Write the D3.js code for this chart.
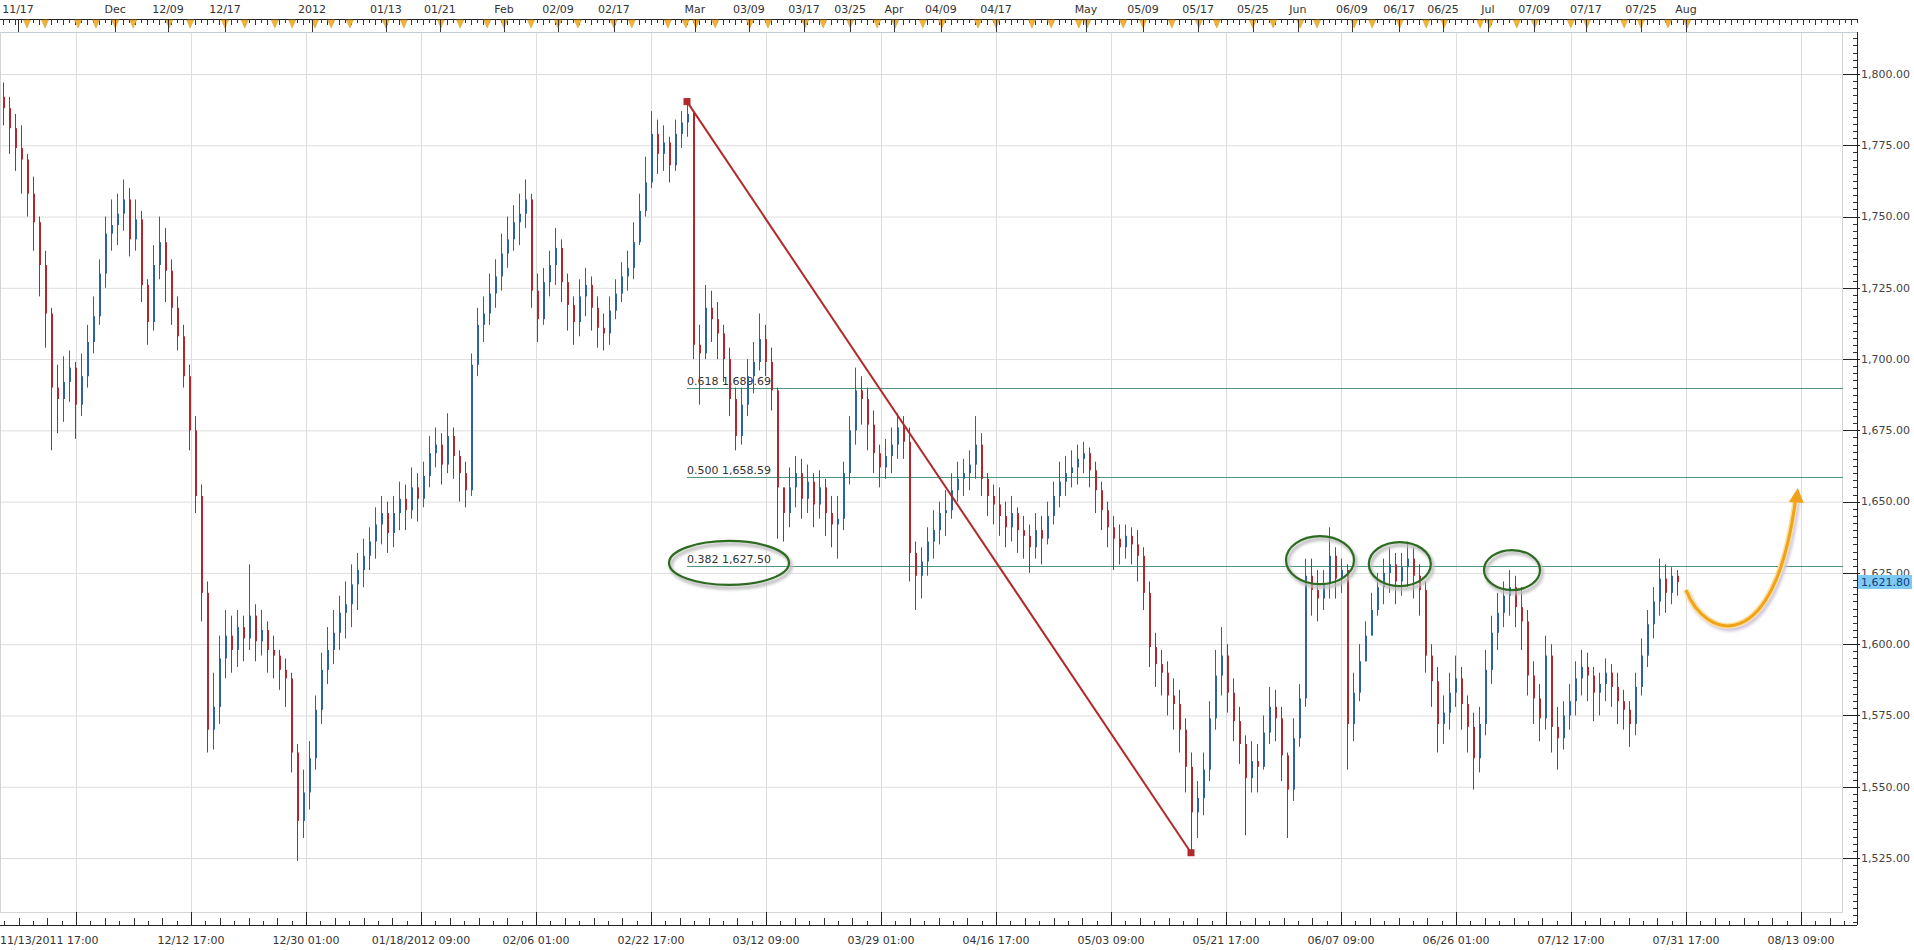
<!DOCTYPE html>
<html>
<head>
<meta charset="utf-8">
<script src="https://cdn.jsdelivr.net/npm/d3@7"></script>
<style>
  body { margin: 0; background: #fff; }
  svg { display: block; }
  text { font-family: "DejaVu Sans", Verdana, sans-serif; }
</style>
</head>
<body>
<svg id="chart" width="1914" height="950"></svg>
<script>
// gold, 4H-ish bars (thinned), open = previous close
const firstOpen = 1792;
const closes = [
  1788,1781,1774,1770,1758,1748,1733,1716,1690,1686,
  1692,1697,1684,1694,1706,1715,1730,1744,1747,1751,
  1756,1742,1749,1726,1713,1733,1741,1731,1718,1708,
  1694,1675,1652,1618,1570,1578,1595,1603,1598,1606,
  1602,1610,1601,1605,1598,1596,1591,1588,1562,1538,
  1548,1560,1577,1591,1598,1604,1611,1614,1621,1626,
  1631,1636,1642,1646,1639,1646,1651,1647,1655,1651,
  1659,1667,1670,1663,1673,1666,1660,1654,1698,1712,
  1716,1723,1729,1737,1742,1748,1751,1756,1724,1714,
  1727,1733,1739,1727,1719,1713,1722,1726,1718,1711,
  1709,1717,1723,1729,1732,1741,1752,1762,1779,1772,
  1776,1768,1779,1783,1786,1705,1702,1718,1714,1709,
  1700,1686,1673,1684,1694,1699,1707,1699,1689,1655,
  1646,1655,1660,1651,1657,1649,1655,1646,1642,1644,
  1660,1675,1689,1686,1677,1667,1662,1666,1670,1676,
  1671,1632,1624,1629,1636,1640,1646,1647,1654,1658,
  1660,1663,1670,1658,1652,1649,1645,1641,1646,1640,
  1638,1634,1640,1637,1645,1652,1657,1660,1662,1665,
  1667,1661,1654,1647,1641,1637,1634,1638,1635,1631,
  1618,1599,1593,1590,1582,1579,1570,1557,1541,1546,
  1556,1574,1589,1596,1583,1573,1565,1553,1559,1557,
  1569,1578,1574,1561,1549,1567,1581,1624,1619,1616,
  1621,1631,1623,1626,1572,1583,1594,1603,1612,1620,
  1625,1628,1622,1627,1630,1624,1619,1596,1587,1572,
  1576,1583,1588,1579,1571,1560,1572,1591,1604,1611,
  1617,1620,1613,1608,1589,1581,1574,1596,1571,1567,
  1575,1580,1588,1592,1589,1583,1586,1590,1585,1580,
  1577,1572,1585,1596,1607,1615,1623,1618,1624,1621.8
];
const highs = [
  1797,1792,1786,1782,1772,1764,1750,1738,1718,1698,
  1701,1703,1699,1702,1712,1722,1735,1750,1756,1758,
  1763,1760,1756,1752,1728,1740,1750,1746,1735,1722,
  1712,1698,1680,1656,1622,1590,1603,1612,1610,1612,
  1610,1628,1614,1612,1608,1603,1598,1595,1590,1565,
  1556,1566,1582,1597,1606,1612,1617,1622,1628,1632,
  1637,1641,1648,1652,1650,1652,1657,1656,1662,1660,
  1664,1673,1676,1674,1681,1676,1668,1664,1702,1718,
  1722,1730,1735,1744,1750,1754,1758,1763,1758,1730,
  1732,1738,1746,1742,1730,1722,1728,1732,1729,1722,
  1716,1722,1728,1734,1738,1748,1758,1771,1787,1784,
  1782,1778,1784,1787,1790.33,1787,1712,1726,1724,1720,
  1712,1704,1690,1690,1700,1706,1716,1712,1704,1690,
  1654,1662,1666,1665,1663,1660,1661,1658,1652,1652,
  1664,1680,1697,1694,1690,1682,1670,1672,1676,1681,
  1680,1676,1636,1634,1641,1647,1650,1654,1660,1664,
  1665,1668,1680,1674,1660,1656,1655,1650,1652,1648,
  1645,1642,1646,1645,1650,1657,1664,1666,1668,1670,
  1671,1669,1664,1657,1650,1645,1642,1642,1641,1640,
  1634,1622,1604,1598,1594,1588,1584,1574,1562,1552,
  1562,1580,1598,1606,1600,1588,1578,1568,1566,1565,
  1575,1585,1584,1578,1562,1574,1586,1630,1630,1626,
  1626,1641,1634,1630,1628,1590,1600,1608,1618,1625,
  1630,1634,1632,1632,1636,1634,1628,1622,1600,1592,
  1582,1590,1596,1592,1582,1576,1578,1598,1610,1618,
  1622,1626,1624,1620,1612,1594,1586,1603,1600,1578,
  1580,1586,1594,1598,1597,1592,1590,1595,1593,1590,
  1584,1580,1590,1602,1612,1620,1630,1628,1627,1626
];
const lows = [
  1782,1772,1766,1758,1750,1738,1722,1704,1668,1674,
  1678,1685,1672,1680,1690,1702,1712,1725,1738,1740,
  1745,1736,1738,1720,1705,1710,1728,1720,1712,1703,
  1690,1668,1646,1608,1562,1563,1572,1588,1590,1592,
  1594,1598,1594,1596,1590,1588,1584,1578,1555,1524,
  1532,1542,1556,1572,1586,1593,1598,1602,1606,1612,
  1620,1626,1630,1635,1632,1634,1640,1640,1644,1643,
  1648,1655,1662,1656,1660,1658,1650,1648,1652,1694,
  1706,1712,1718,1724,1732,1738,1740,1746,1718,1706,
  1712,1722,1726,1720,1710,1705,1708,1715,1710,1704,
  1703,1705,1714,1720,1724,1728,1740,1750,1760,1765,
  1766,1762,1766,1774,1778,1700,1684,1700,1706,1700,
  1692,1680,1668,1670,1680,1688,1696,1694,1682,1637,
  1636,1641,1648,1644,1646,1641,1644,1638,1634,1630,
  1640,1656,1670,1677,1668,1660,1655,1658,1660,1665,
  1665,1622,1612,1616,1624,1630,1635,1638,1644,1650,
  1652,1654,1658,1652,1645,1642,1638,1634,1636,1632,
  1630,1625,1630,1628,1635,1642,1648,1652,1655,1656,
  1660,1655,1646,1640,1634,1626,1628,1630,1628,1622,
  1612,1592,1585,1582,1575,1570,1562,1548,1526.85,1532,
  1540,1552,1570,1582,1576,1566,1558,1533,1548,1548,
  1556,1565,1566,1552,1532,1545,1564,1578,1610,1608,
  1612,1616,1616,1618,1556,1566,1580,1594,1604,1610,
  1614,1618,1614,1617,1620,1616,1610,1590,1578,1562,
  1565,1570,1578,1570,1562,1549,1555,1568,1586,1598,
  1606,1610,1606,1598,1582,1572,1566,1570,1562,1556,
  1563,1570,1575,1582,1580,1573,1575,1580,1578,1572,
  1570,1564,1568,1582,1592,1602,1610,1611,1614,1617
];

// axis labels (positions in bar slots)
const topLabels = ['11/17','Dec','12/09','12/17','2012','01/13','01/21','Feb','02/09','02/17',
  'Mar','03/09','03/17','03/25','Apr','04/09','04/17','May','05/09','05/17','05/25',
  'Jun','06/09','06/17','06/25','Jul','07/09','07/17','07/25','Aug'];
const topSlots = [2.5,18.7,27.5,37,51.5,63.8,72.8,83.5,92.5,101.8,
  115.3,124.3,133.5,141.2,148.5,156.3,165.5,180.5,190,199.2,208.3,
  215.8,224.8,232.7,240,247.5,255.2,263.8,273,280.5];
const markerSlots = [4,7,12.5,15.5,18.7,21.7,27.7,31.2,37,40.3,45.3,48.2,52,54.7,57.8,63.8,66.8,
  73,76.2,80.7,83.5,88,92.5,95.8,101.8,104.8,110.8,113.8,115.5,118.7,124.5,127.5,133.7,136.7,
  141.2,145.7,148.7,153.3,156.5,162.5,165.5,171.5,174.7,179.3,180.7,186.7,190,194.8,199.3,
  202.3,208.3,211.7,216.2,219,225.2,228.2,232.8,237.2,240.2,246.2,247.8,252.3,255.3,261.3,
  264,270.2,273,277.5,280.7];
const bottomLabels = ['','12/12 17:00','12/30 01:00','01/18/2012 09:00','02/06 01:00','02/22 17:00',
  '03/12 09:00','03/29 01:00','04/16 17:00','05/03 09:00','05/21 17:00','06/07 09:00',
  '06/26 01:00','07/12 17:00','07/31 17:00','08/13 09:00'];
const bottomSlots = [12.17,31.33,50.5,69.67,88.83,108,127.17,146.33,165.5,184.67,203.83,
  223,242.17,261.33,280.5,299.67];
const firstBarLabel = '11/13/2011 17:00';
const priceTicks = [1525,1550,1575,1600,1625,1650,1675,1700,1725,1750,1775,1800];
const lastPrice = 1621.80;

// drawing tools
const fibRatios = ['0.618','0.500','0.382'];
const fibPrices = [1689.69, 1658.59, 1627.50];
const trendSlots = [114, 198];
const trendPrices = [1790.33, 1526.85];
const circleSlots = [121, 219.5, 232.8, 251.5];
const circlePrices = [1628.5, 1629.5, 1628.1, 1626];
const arrowSlots = [280.5, 283.7, 295.3, 298.8];
const arrowPrices = [1619, 1601.5, 1594.5, 1651.3];

const W = 1914, H = 950;
const plot = {left: 0, right: 1843, top: 32, bottom: 912};
const axisX = 1857, axisY = 925, rulerY = 19;

const svg = d3.select('#chart');
const x = d3.scaleLinear().domain([0, 280]).range([3, 1683]);
const y = d3.scaleLinear().domain([1525, 1800]).range([858, 74]);

const defs = svg.append('defs');
defs.append('clipPath').attr('id', 'plotclip')
  .append('rect')
  .attr('x', plot.left).attr('y', plot.top)
  .attr('width', plot.right - plot.left).attr('height', plot.bottom - plot.top);
defs.append('filter').attr('id', 'soft')
  .append('feGaussianBlur').attr('stdDeviation', 1.6);

// grid
const grid = svg.append('g').attr('clip-path', 'url(#plotclip)');
grid.selectAll('.hg').data(priceTicks).join('line')
  .attr('x1', plot.left).attr('x2', plot.right)
  .attr('y1', d => y(d) + 0.5).attr('y2', d => y(d) + 0.5)
  .attr('stroke', '#dedede');
grid.selectAll('.vg').data(bottomSlots).join('line')
  .attr('x1', d => Math.round(x(d)) + 0.5).attr('x2', d => Math.round(x(d)) + 0.5)
  .attr('y1', plot.top).attr('y2', plot.bottom)
  .attr('stroke', '#dedede');

svg.append('rect')
  .attr('x', plot.left + 0.5).attr('y', plot.top + 0.5)
  .attr('width', plot.right - plot.left - 1).attr('height', plot.bottom - plot.top)
  .attr('fill', 'none').attr('stroke', '#d4d4d4');

// fib levels
const fib = svg.append('g').attr('clip-path', 'url(#plotclip)');
fibPrices.forEach((p, i) => {
  fib.append('line')
    .attr('x1', x(trendSlots[0])).attr('x2', plot.right)
    .attr('y1', Math.round(y(p)) + 0.5).attr('y2', Math.round(y(p)) + 0.5)
    .attr('stroke', '#4f9585').attr('stroke-width', 1);
  fib.append('text')
    .attr('x', x(trendSlots[0])).attr('y', y(p) - 3)
    .attr('font-size', 11).attr('fill', '#333')
    .text(fibRatios[i] + ' ' + d3.format(',.2f')(p));
});

// candles
const bars = closes.map((c, i) => ({
  i, o: i === 0 ? firstOpen : closes[i - 1], h: highs[i], l: lows[i], c
}));
const upCol = '#2a62a4', downCol = '#b3272c';
const cg = svg.append('g').attr('clip-path', 'url(#plotclip)');
cg.selectAll('.wick').data(bars).join('line')
  .attr('x1', d => Math.round(x(d.i)) + 0.5).attr('x2', d => Math.round(x(d.i)) + 0.5)
  .attr('y1', d => y(d.h)).attr('y2', d => y(d.l))
  .attr('stroke', d => d.c >= d.o ? upCol : downCol).attr('stroke-width', 1);
cg.selectAll('.body').data(bars).join('rect')
  .attr('x', d => Math.round(x(d.i)))
  .attr('width', 2)
  .attr('y', d => y(Math.max(d.o, d.c)))
  .attr('height', d => Math.max(1, Math.abs(y(d.o) - y(d.c))))
  .attr('fill', d => d.c >= d.o ? upCol : downCol);

// trend line
const tl = svg.append('g');
tl.append('line')
  .attr('x1', x(trendSlots[0])).attr('y1', y(trendPrices[0]))
  .attr('x2', x(trendSlots[1])).attr('y2', y(trendPrices[1]))
  .attr('stroke', '#b02a2a').attr('stroke-width', 2);
tl.selectAll('rect').data(trendSlots).join('rect')
  .attr('x', (d, i) => x(d) - 3.5).attr('y', (d, i) => y(trendPrices[i]) - 3.5)
  .attr('width', 7).attr('height', 7).attr('fill', '#b02a2a');

// green circles
const circleRx = [60, 34, 31, 28], circleRy = [22, 24, 22, 20];
const cc = svg.append('g');
circleSlots.forEach((s, i) => {
  cc.append('ellipse')
    .attr('cx', x(s) + 2).attr('cy', y(circlePrices[i]) + 3)
    .attr('rx', circleRx[i]).attr('ry', circleRy[i])
    .attr('fill', 'none').attr('stroke', '#bdbdbd').attr('stroke-width', 3.5)
    .attr('filter', 'url(#soft)');
  cc.append('ellipse')
    .attr('cx', x(s)).attr('cy', y(circlePrices[i]))
    .attr('rx', circleRx[i]).attr('ry', circleRy[i])
    .attr('fill', 'none').attr('stroke', '#2c6b20').attr('stroke-width', 2.2);
});

// orange arrow
const ap = arrowSlots.map((s, i) => [x(s), y(arrowPrices[i])]);
const arrowPath = `M${ap[0]}C${ap[1]} ${ap[2]} ${ap[3]}`;
svg.append('path').attr('d', arrowPath)
  .attr('transform', 'translate(2,3)')
  .attr('fill', 'none').attr('stroke', '#cfc6e0').attr('stroke-width', 5)
  .attr('filter', 'url(#soft)');
svg.append('path').attr('d', arrowPath)
  .attr('fill', 'none').attr('stroke', '#fbe0a0').attr('stroke-width', 6);
svg.append('path').attr('d', arrowPath)
  .attr('fill', 'none').attr('stroke', '#f1a21b').attr('stroke-width', 3);
const tip = ap[3];
svg.append('path')
  .attr('d', `M${tip[0] + 2},${tip[1] - 10}L${tip[0] - 7},${tip[1] + 4}L${tip[0] + 8},${tip[1] + 5}Z`)
  .attr('fill', '#f1a21b');

// top ruler
const ruler = svg.append('g');
ruler.append('line').attr('x1', 0).attr('x2', axisX).attr('y1', rulerY + 0.5).attr('y2', rulerY + 0.5)
  .attr('stroke', '#222');
ruler.append('line').attr('x1', 0).attr('x2', axisX).attr('y1', plot.top + 0.5).attr('y2', plot.top + 0.5)
  .attr('stroke', '#c3ccd6');
ruler.selectAll('.tt').data(d3.range(0, 310)).join('line')
  .attr('x1', d => Math.round(x(d)) + 0.5).attr('x2', d => Math.round(x(d)) + 0.5)
  .attr('y1', rulerY).attr('y2', d => rulerY + (d % 2 ? 4 : 6))
  .attr('stroke', '#333');
ruler.selectAll('.mk').data(markerSlots).join('path')
  .attr('d', d => `M${x(d) - 3.5},${rulerY + 1}L${x(d) + 3.5},${rulerY + 1}L${x(d)},${rulerY + 9}Z`)
  .attr('fill', '#efb33a').attr('stroke', '#d59a25').attr('stroke-width', 0.5);
ruler.selectAll('.tl').data(topSlots).join('line')
  .attr('x1', d => Math.round(x(d)) + 0.5).attr('x2', d => Math.round(x(d)) + 0.5)
  .attr('y1', rulerY).attr('y2', plot.top)
  .attr('stroke', '#333');
ruler.selectAll('text').data(topLabels).join('text')
  .attr('x', (d, i) => x(topSlots[i])).attr('y', 13)
  .attr('text-anchor', 'middle').attr('font-size', 11).attr('fill', '#333')
  .text(d => d);

// bottom axis
const bot = svg.append('g');
bot.append('line').attr('x1', 0).attr('x2', axisX).attr('y1', axisY + 0.5).attr('y2', axisY + 0.5)
  .attr('stroke', '#222');
const minor = d3.range(0, 17 * 8).map(k => 12.17 + (k - 8) * 19.167 / 8).filter(d => d > 0 && x(d) < axisX);
bot.selectAll('.mt').data(minor).join('line')
  .attr('x1', d => Math.round(x(d)) + 0.5).attr('x2', d => Math.round(x(d)) + 0.5)
  .attr('y1', axisY).attr('y2', (d, i) => axisY - (i % 2 ? 7 : 4))
  .attr('stroke', '#333');
bot.selectAll('.bt').data(bottomSlots).join('line')
  .attr('x1', d => Math.round(x(d)) + 0.5).attr('x2', d => Math.round(x(d)) + 0.5)
  .attr('y1', axisY).attr('y2', plot.bottom)
  .attr('stroke', '#222');
bot.selectAll('text').data(bottomLabels).join('text')
  .attr('x', (d, i) => x(bottomSlots[i])).attr('y', 944)
  .attr('text-anchor', 'middle').attr('font-size', 11).attr('fill', '#333')
  .text(d => d);
bot.append('text').attr('x', 0).attr('y', 944).attr('font-size', 11).attr('fill', '#333')
  .text(firstBarLabel);

// right axis
const ra = svg.append('g');
ra.append('line').attr('x1', axisX + 0.5).attr('x2', axisX + 0.5).attr('y1', plot.top).attr('y2', axisY)
  .attr('stroke', '#222');
const minorP = d3.range(1502.5, 1815, 2.5);
ra.selectAll('.mp').data(minorP).join('line')
  .attr('x1', axisX - 4).attr('x2', axisX)
  .attr('y1', d => Math.round(y(d)) + 0.5).attr('y2', d => Math.round(y(d)) + 0.5)
  .attr('stroke', '#333');
ra.selectAll('.pt').data(priceTicks).join('line')
  .attr('x1', plot.right).attr('x2', axisX + 3)
  .attr('y1', d => Math.round(y(d)) + 0.5).attr('y2', d => Math.round(y(d)) + 0.5)
  .attr('stroke', '#222');
ra.selectAll('text').data(priceTicks).join('text')
  .attr('x', axisX + 4).attr('y', d => y(d)).attr('dy', '0.35em')
  .attr('font-size', 11).attr('fill', '#444')
  .text(d => d3.format(',.2f')(d));

// last price tag (sits over the 1,625.00 label, as in the platform)
ra.append('rect')
  .attr('x', axisX + 1).attr('y', y(lastPrice) - 7)
  .attr('width', W - axisX - 3).attr('height', 14)
  .attr('fill', '#7fcaf0');
ra.append('text')
  .attr('x', axisX + 4).attr('y', y(lastPrice)).attr('dy', '0.35em')
  .attr('font-size', 11).attr('fill', '#0d3b86')
  .text(d3.format(',.2f')(lastPrice));
</script>
</body>
</html>
